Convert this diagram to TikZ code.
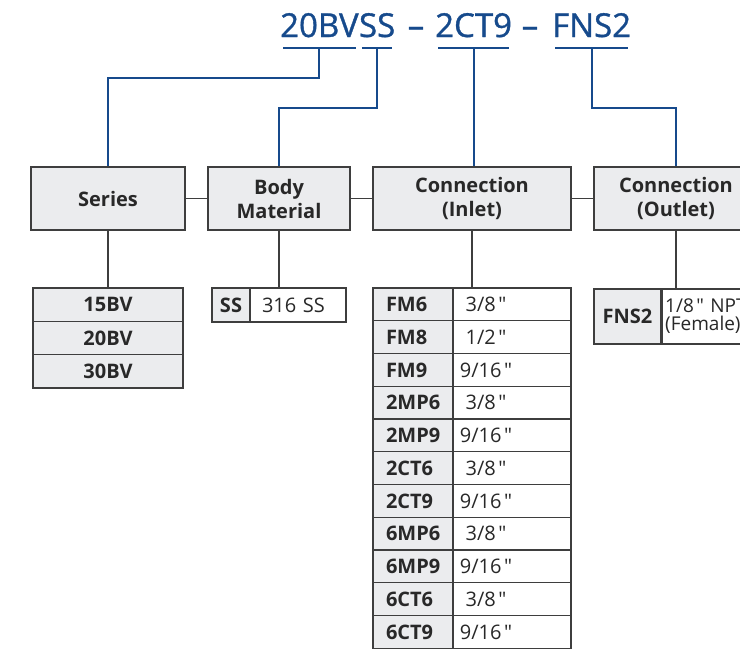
\documentclass[tikz,border=0pt]{standalone}
\usepackage{fontspec}
\setmainfont{Open Sans}[Ligatures=TeXOff]
\newfontfamily\codefont{Open Sans}[FakeBold=1]
\usetikzlibrary{positioning}
\definecolor{codeblue}{RGB}{22,74,140}
\definecolor{boxgray}{RGB}{235,236,238}
\definecolor{linegray}{RGB}{62,62,62}
\definecolor{textgray}{RGB}{40,40,40}
\newcommand{\inch}{\hspace{2.5pt}"}
\tikzset{
  hdr/.style={font=\codefont\fontsize{33}{38}\selectfont, text=codeblue, inner sep=0pt, anchor=base west},
  blueline/.style={draw=codeblue, line width=2pt},
  grayline/.style={draw=linegray, line width=1.2pt},
  catbox/.style={draw=linegray, fill=boxgray, line width=1.2pt, minimum height=63pt,
    align=center, text=textgray, font=\bfseries\fontsize{20}{24}\selectfont},
  codecell/.style={draw=linegray, fill=boxgray, line width=1.2pt, inner sep=0pt,
    text=textgray, font=\bfseries\fontsize{20}{24}\selectfont},
  valcell/.style={draw=linegray, fill=white, line width=1.2pt, inner sep=0pt,
    text=textgray, font=\fontsize{20}{24}\selectfont}
}
\begin{document}
\begin{tikzpicture}[x=1pt,y=-1pt]
\useasboundingbox (0,0) rectangle (740,649);
\clip (0,0) rectangle (740,649);

% ordering code
\node[hdr] (c20) at (280,37) {20BV};
\node[hdr] (css) at (c20.base east) {SS};
\node[hdr, anchor=base] (d1) at (416,37) {–};
\node[hdr] (cct) at (435,37) {2CT9};
\node[hdr, anchor=base] (d2) at (530,37) {–};
\node[hdr] (cfns) at (552,37) {FNS2};

\foreach \n in {c20,css,cct,cfns}
  \draw[blueline] ([shift={(3,11)}]\n.base west) -- ([shift={(-3,11)}]\n.base east);
\coordinate (u20) at ([yshift=-11pt]c20.base);
\coordinate (uss) at ([yshift=-11pt]css.base);
\coordinate (uct) at ([yshift=-11pt]cct.base);
\coordinate (ufns) at ([yshift=-11pt]cfns.base);

% categories
\node[catbox, minimum width=154pt] (series) at (108,198.5) {Series};
\node[catbox, minimum width=142pt] (body) at (279,198.5) {Body\\Material};
\node[catbox, minimum width=198pt] (inlet) at (472,198.5) {Connection\\(Inlet)};
\node[catbox, minimum width=164pt] (outlet) at (676,198.5) {Connection\\(Outlet)};

\draw[blueline] (u20) -- ++(0,30) -| (series.north);
\draw[blueline] (uss) -- ++(0,60) -| (body.north);
\draw[blueline] (uct) -- (uct |- inlet.north);
\draw[blueline] (ufns) -- ++(0,60) -| (outlet.north);

\draw[grayline] (series.east) -- (body.west);
\draw[grayline] (body.east) -- (inlet.west);
\draw[grayline] (inlet.east) -- (outlet.west);

% series
\foreach \s [count=\i] in {15BV,20BV,30BV}
  \node[codecell, minimum width=150pt, minimum height=33.3pt] (s\i) at (108,{288+16.65+33.3*(\i-1)}) {\s};

% body material
\node[codecell, minimum width=38pt, minimum height=34pt] (sscode) at (231,305) {SS};
\node[valcell, minimum height=34pt, text width=72pt, inner xsep=12pt, align=left] (ssval) at (298,305) {316 SS};

% inlet
\foreach \code/\val [count=\i] in {FM6/{3/8\inch},FM8/{1/2\inch},FM9/{9/16\inch},2MP6/{3/8\inch},2MP9/{9/16\inch},
    2CT6/{3/8\inch},2CT9/{9/16\inch},6MP6/{3/8\inch},6MP9/{9/16\inch},6CT6/{3/8\inch},6CT9/{9/16\inch}} {
  \node[codecell, minimum height=32.75pt, text width=54pt, inner xsep=13pt, align=left]
    (c\i) at (413,{288+16.375+32.75*(\i-1)}) {\code};
  \node[valcell, minimum height=32.75pt, minimum width=118pt,
    label={[xshift=-26pt, text=textgray, font=\fontsize{20}{24}\selectfont]center:\val}]
    (v\i) at (512,{288+16.375+32.75*(\i-1)}) {};
}

% outlet
\node[codecell, minimum width=67pt, minimum height=55pt] (fcode) at (627.5,316.5) {FNS2};
\node[valcell, anchor=west, minimum height=55pt, text width=120pt, inner xsep=3pt, align=left,
  font=\fontsize{19}{18}\selectfont] (fval) at (fcode.east) {1/8\inch{} NPT\\(Female)};

\draw[grayline] (series.south) -- (s1.north);
\draw[grayline] (body.south) -- (body.south |- sscode.north);
\draw[grayline] (inlet.south) -- (inlet.south |- c1.north);
\draw[grayline] (outlet.south) -- (outlet.south |- fcode.north);
\end{tikzpicture}
\end{document}
